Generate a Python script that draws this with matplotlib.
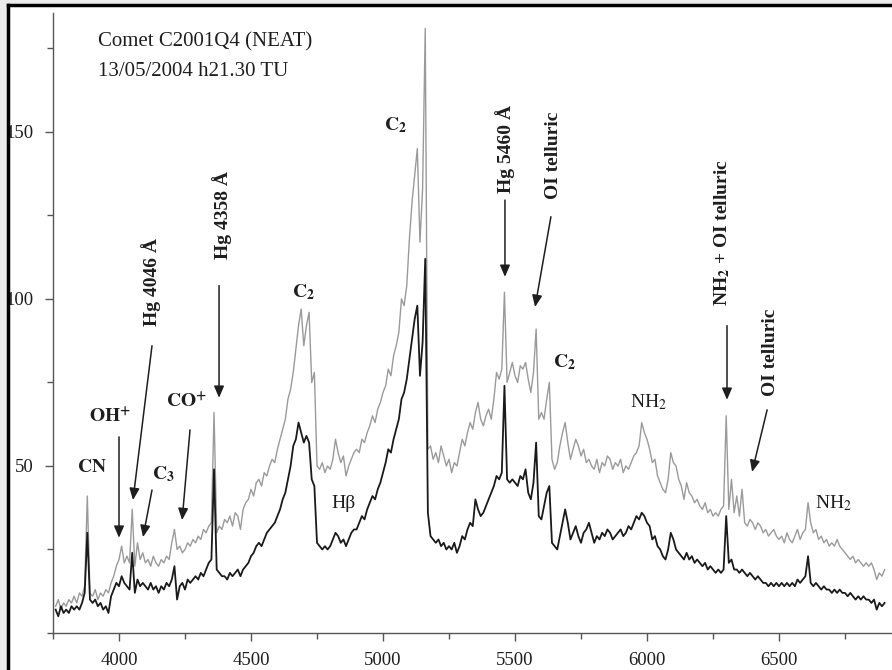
import numpy as np
import matplotlib
matplotlib.use('Agg')
import matplotlib.pyplot as plt
from matplotlib.ticker import MultipleLocator
from matplotlib.patches import Rectangle
from matplotlib.lines import Line2D

plt.rcParams['font.family'] = ['Liberation Serif', 'DejaVu Serif']
plt.rcParams['mathtext.fontset'] = 'stix'

# wavelength grid (Angstrom), 10 A steps
wavelength = np.arange(3760, 6901, 10)

# upper trace (grey)
flux_upper = [
    8, 10, 7, 9,
    8, 10, 9, 11, 9, 12, 11, 14, 41, 12,
    11, 13, 10, 12, 11, 13, 12, 15, 17, 20,
    22, 26, 21, 23, 21, 37, 20, 27, 22, 24,
    21, 22, 20, 23, 21, 20, 22, 21, 23, 22,
    27, 31, 25, 26, 24, 25, 27, 26, 28, 27,
    29, 28, 31, 30, 32, 33, 66, 30, 32, 31,
    34, 33, 35, 32, 36, 35, 31, 37, 39, 40,
    43, 41, 45, 46, 44, 48, 47, 50, 52, 51,
    55, 58, 61, 64, 70, 73, 78, 85, 92, 97,
    86, 92, 96, 75, 78, 50, 49, 51, 48, 50,
    49, 52, 58, 54, 51, 53, 47, 50, 52, 54,
    55, 54, 58, 57, 60, 62, 65, 63, 67, 69,
    72, 74, 79, 77, 83, 86, 90, 100, 98, 104,
    118, 129, 137, 145, 117, 133, 181, 55, 56, 52,
    54, 51, 56, 53, 50, 52, 48, 51, 50, 54,
    58, 56, 60, 63, 61, 66, 69, 64, 62, 65,
    67, 64, 70, 78, 76, 79, 102, 75, 78, 81,
    77, 75, 80, 79, 81, 76, 72, 78, 91, 64,
    66, 64, 70, 75, 52, 49, 51, 56, 60, 63,
    57, 52, 55, 58, 56, 53, 55, 51, 52, 50,
    49, 52, 48, 51, 50, 53, 52, 49, 51, 50,
    52, 48, 50, 49, 51, 53, 54, 56, 63, 60,
    58, 55, 51, 52, 47, 45, 43, 42, 46, 54,
    51, 50, 46, 44, 40, 45, 42, 41, 39, 40,
    38, 37, 39, 36, 37, 35, 36, 35, 37, 38,
    65, 37, 46, 36, 41, 35, 43, 33, 32, 34,
    33, 31, 33, 32, 30, 31, 29, 30, 31, 29,
    28, 29, 27, 30, 28, 27, 29, 31, 28, 30,
    31, 39, 33, 30, 31, 28, 29, 27, 28, 26,
    27, 26, 28, 26, 25, 24, 23, 22, 23, 21,
    22, 21, 20, 21, 20, 21, 19, 16, 18, 17,
    19,
]

# lower trace (black)
flux_lower = [
    7, 5, 8, 6,
    7, 6, 8, 7, 8, 7, 9, 12, 30, 10,
    9, 10, 8, 9, 7, 8, 6, 11, 13, 15,
    14, 17, 15, 14, 13, 24, 12, 16, 14, 15,
    14, 13, 15, 13, 14, 12, 14, 13, 15, 14,
    16, 20, 10, 14, 15, 13, 16, 15, 16, 17,
    16, 18, 17, 19, 21, 22, 49, 19, 18, 17,
    17, 16, 18, 17, 18, 19, 17, 19, 20, 21,
    23, 24, 26, 27, 26, 28, 30, 31, 32, 33,
    35, 37, 40, 42, 46, 50, 56, 58, 63, 60,
    57, 59, 57, 46, 44, 27, 26, 25, 26, 25,
    26, 28, 30, 29, 27, 28, 26, 28, 30, 31,
    31, 33, 35, 34, 37, 39, 41, 40, 43, 45,
    48, 51, 55, 54, 58, 61, 64, 70, 72, 76,
    82, 88, 94, 98, 77, 87, 112, 36, 29, 28,
    27, 28, 26, 27, 25, 26, 25, 27, 24, 26,
    29, 28, 31, 33, 32, 40, 37, 35, 36, 38,
    40, 42, 44, 47, 46, 48, 74, 46, 45, 46,
    45, 44, 47, 46, 49, 42, 40, 45, 57, 35,
    34, 38, 42, 44, 27, 26, 25, 29, 33, 37,
    33, 28, 30, 32, 29, 27, 30, 31, 33, 30,
    27, 29, 28, 30, 29, 31, 30, 28, 29, 30,
    31, 29, 30, 32, 31, 33, 35, 34, 36, 35,
    33, 32, 28, 29, 26, 25, 23, 22, 25, 30,
    28, 25, 24, 23, 22, 24, 22, 23, 21, 22,
    21, 20, 21, 19, 20, 19, 18, 19, 18, 19,
    35, 21, 22, 19, 19, 18, 19, 18, 17, 18,
    17, 16, 17, 16, 15, 15, 14, 15, 14, 15,
    14, 15, 14, 15, 14, 15, 14, 16, 15, 16,
    17, 23, 15, 14, 15, 14, 13, 14, 13, 13,
    12, 13, 12, 13, 12, 12, 11, 12, 11, 10,
    11, 10, 11, 10, 10, 9, 10, 7, 9, 8,
    9,
]

x_ticks = [4000, 4500, 5000, 5500, 6000, 6500]
y_ticks = [50, 100, 150]

ink = '#1e1e1e'

fig = plt.figure(figsize=(8.92, 6.70), dpi=100, facecolor='#ececec')
fig.add_artist(Rectangle((8/892, 0), 1, 665/670, transform=fig.transFigure,
                         facecolor='white', edgecolor='none', zorder=0))
fig.add_artist(Line2D([8/892, 8/892], [0, 665/670], transform=fig.transFigure,
                      color='black', lw=2.5))
fig.add_artist(Line2D([8/892, 1], [665/670, 665/670], transform=fig.transFigure,
                      color='black', lw=2.5))

ax = fig.add_axes([53/892, 37/670, 1 - 53/892, 620/670])
ax.set_facecolor('none')

ax.plot(wavelength, flux_upper, color='#9a9a9a', lw=1.0)
ax.plot(wavelength, flux_lower, color='#1a1a1a', lw=1.3)

ax.set_xlim(3750, 6928)
ax.set_ylim(0, 185.6)
ax.set_xticks(x_ticks)
ax.set_yticks(y_ticks)
ax.xaxis.set_minor_locator(MultipleLocator(250))
ax.yaxis.set_minor_locator(MultipleLocator(25))
for s in ['top', 'right']:
    ax.spines[s].set_visible(False)
for s in ['left', 'bottom']:
    ax.spines[s].set_color('#555555')
    ax.spines[s].set_linewidth(1.0)
ax.tick_params(which='both', direction='out', color='#555555', labelcolor=ink,
               labelsize=13.5)
ax.tick_params(which='major', length=6, width=1.0, pad=8)
ax.tick_params(which='minor', length=4, width=1.0)

# header text
ax.text(3920, 177, 'Comet C2001Q4 (NEAT)', fontsize=15, color=ink, va='center')
ax.text(3920, 168, '13/05/2004 h21.30 TU', fontsize=15, color=ink, va='center')

# horizontal labels
bold = dict(fontsize=14, color=ink, ha='center', va='center')
ax.text(3898, 49.4, r'$\mathbf{CN}$', **bold)
ax.text(3966, 64.4, r'$\mathbf{OH^{+}}$', **bold)
ax.text(4167, 47.6, r'$\mathbf{C_{3}}$', **bold)
ax.text(4254, 68.9, r'$\mathbf{CO^{+}}$', **bold)
ax.text(4697, 102, r'$\mathbf{C_{2}}$', **bold)
ax.text(5049, 152, r'$\mathbf{C_{2}}$', **bold)
ax.text(5686, 81, r'$\mathbf{C_{2}}$', **bold)
ax.text(4852, 38.9, 'Hβ', fontsize=14, color=ink, ha='center', va='center')
ax.text(6004, 69, r'NH$_{2}$', fontsize=14, color=ink, ha='center', va='center')
ax.text(6705, 38.9, r'NH$_{2}$', fontsize=14, color=ink, ha='center', va='center')

# vertical labels
vert = dict(fontsize=14, color=ink, ha='center', va='center', rotation=90,
            fontweight='bold')
ax.text(4121, 105, 'Hg 4046 Å', **vert)
ax.text(4390, 125, 'Hg 4358 Å', **vert)
ax.text(5462, 145, 'Hg 5460 Å', **vert)
ax.text(5644, 143, 'OI telluric', **vert)
ax.text(6284, 119.8, r'NH$_{\mathbf{2}}$ + OI telluric', **vert)
ax.text(6466, 84, 'OI telluric', **vert)

# arrows: (tip, tail)
arrows = [
    ((4000, 28.5), (4000, 58.7)),
    ((4053, 39.8), (4125, 86)),
    ((4091, 28.7), (4125, 42.8)),
    ((4239, 33.8), (4269, 60.8)),
    ((4379, 70.4), (4379, 104)),
    ((5462, 106.6), (5462, 129.6)),
    ((5576, 97.6), (5636, 124.6)),
    ((6303, 69.8), (6303, 92)),
    ((6398, 48.2), (6455, 66.8)),
]
for tip, tail in arrows:
    ax.annotate('', xy=tip, xytext=tail,
                arrowprops=dict(arrowstyle='-|>,head_length=0.7,head_width=0.3',
                                color=ink, lw=1.1, shrinkA=0, shrinkB=0))

fig.savefig('out.png', dpi=100, facecolor=fig.get_facecolor())
